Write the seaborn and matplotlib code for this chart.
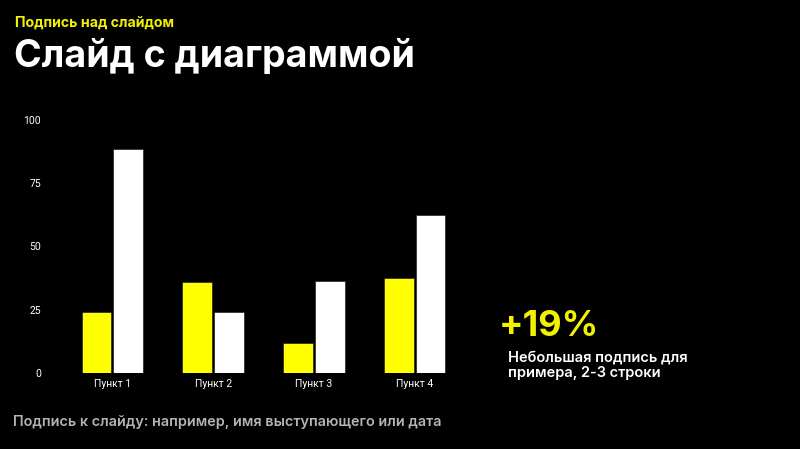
import matplotlib
matplotlib.use("Agg")
import matplotlib.pyplot as plt
import seaborn as sns
import pandas as pd

categories = ["Пункт 1", "Пункт 2", "Пункт 3", "Пункт 4"]
series_a = [24, 36, 12, 37.5]
series_b = [88.5, 24, 36.5, 62.5]
y_ticks = [0, 25, 50, 75, 100]

df = pd.DataFrame({
    "cat": categories * 2,
    "val": series_a + series_b,
    "series": ["A"] * 4 + ["B"] * 4,
})

sns.set_theme(style="white")
plt.rcParams["font.family"] = ["Roboto", "DejaVu Sans"]

fig = plt.figure(figsize=(8, 4.49), dpi=100, facecolor="black")
ax = fig.add_axes([62 / 800, 1 - 373 / 449, (465 - 62) / 800, (373 - 120) / 449])
ax.set_facecolor("black")

sns.barplot(data=df, x="cat", y="val", hue="series", order=categories,
            palette={"A": "#FFFF00", "B": "#FFFFFF"}, saturation=1,
            width=0.63, gap=0.06,
            edgecolor="#222222", linewidth=0.5, legend=False, ax=ax)

ax.set_ylim(0, 100)
ax.set_xlim(-0.5, 3.5)
ax.set_yticks(y_ticks)
ax.set_yticklabels([str(t) for t in y_ticks])
ax.tick_params(axis="both", colors="white", labelsize=7.5, length=0)
ax.tick_params(axis="y", pad=15)
ax.tick_params(axis="x", pad=4)
ax.set_xlabel("")
ax.set_ylabel("")
for s in ax.spines.values():
    s.set_visible(False)
ax.grid(False)

bold = ["Inter", "DejaVu Sans"]
fig.text(15 / 800, 1 - 23 / 449, "Подпись над слайдом", color="#F2F200",
         fontsize=10.2, fontweight="bold", family=bold, va="center", ha="left")
fig.text(14 / 800, 1 - 57 / 449, "Слайд с диаграммой", color="white",
         fontsize=27, fontweight="bold", family=bold, va="center", ha="left")
fig.text(499 / 800, 1 - 326 / 449, "+19%", color="#F2F200",
         fontsize=26, fontweight="bold", family=bold, va="center", ha="left")
fig.text(508 / 800, 1 - 365 / 449, "Небольшая подпись для\nпримера, 2-3 строки",
         color="white", fontsize=10.5, fontweight="semibold", family=bold,
         va="center", ha="left", linespacing=1.15)
fig.text(13 / 800, 1 - 422 / 449,
         "Подпись к слайду: например, имя выступающего или дата",
         color="#B4B4B4", fontsize=10.35, fontweight="semibold", family=bold,
         va="center", ha="left")

fig.savefig("out.png", dpi=100, facecolor="black")
